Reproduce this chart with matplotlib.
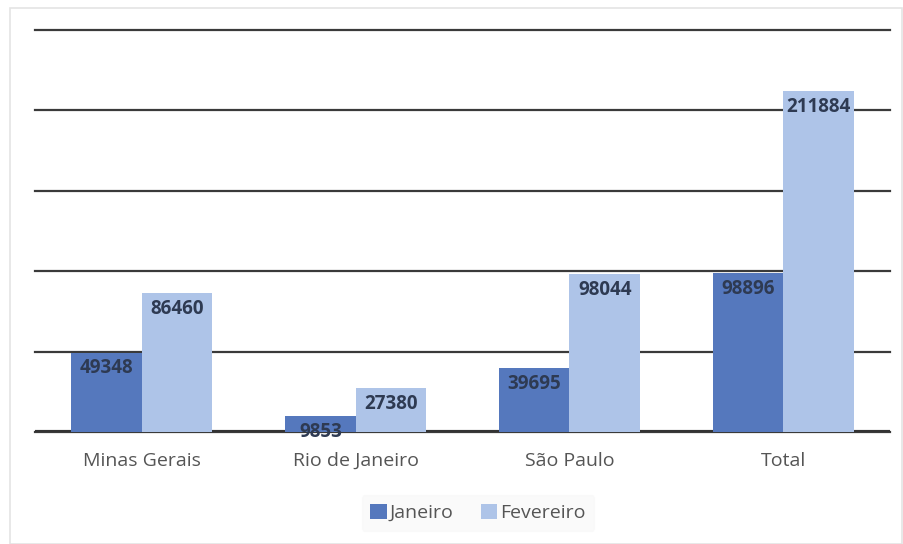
import numpy as np
import matplotlib.pyplot as plt
from matplotlib.patches import Rectangle

# ---------- DATA ----------

categories = ["Minas Gerais", "Rio de Janeiro", "São Paulo", "Total"]
janeiro = [49348, 9853, 39695, 98896]
fevereiro = [86460, 27380, 98044, 211884]
series_names = ["Janeiro", "Fevereiro"]

# ---------- PLOTTING ----------

plt.rcParams["font.family"] = ["Open Sans", "DejaVu Sans"]

col_jan = "#5578bd"
col_fev = "#aec4e8"
label_col = "#2e3a52"

fig = plt.figure(figsize=(9.04, 5.44), dpi=100)
ax = fig.add_axes([35 / 904, 112 / 544, 855 / 904, 402 / 544])

x = np.arange(len(categories))
w = 0.33

bars_j = ax.bar(x - w / 2, janeiro, w, color=col_jan, label=series_names[0], zorder=3)
bars_f = ax.bar(x + w / 2, fevereiro, w, color=col_fev, label=series_names[1], zorder=3)

for bars in (bars_j, bars_f):
    for b in bars:
        h = b.get_height()
        ax.annotate(f"{int(h)}", (b.get_x() + b.get_width() / 2, h),
                    xytext=(0, -4), textcoords="offset points",
                    ha="center", va="top", fontsize=13.5, fontweight="bold",
                    color=label_col, zorder=4)

ax.set_ylim(0, 250000)
ax.set_xlim(-0.5, len(categories) - 0.5)
ax.set_yticks(np.arange(0, 250001, 50000))
ax.yaxis.grid(True, color="#3a3a3a", linewidth=1.6, zorder=1)
for gl in ax.get_ygridlines():
    gl.set_clip_on(False)
ax.axhline(0, color="#333333", linewidth=3, zorder=2)
ax.tick_params(axis="y", left=False, labelleft=False)
ax.tick_params(axis="x", bottom=False, labelsize=14, labelcolor="#555555", pad=11)
ax.set_xticks(x)
ax.set_xticklabels(categories)
for s in ax.spines.values():
    s.set_visible(False)

leg = fig.legend(loc="center", bbox_to_anchor=(478 / 904, 1 - 513 / 544), ncol=2,
                 frameon=True, fontsize=14, handlelength=0.85, handleheight=0.85,
                 handletextpad=0.15, columnspacing=1.4, borderpad=0.45)
leg.get_frame().set_facecolor("#f9f9f9")
leg.get_frame().set_edgecolor("#f9f9f9")
for t in leg.get_texts():
    t.set_color("#555555")

# faint outer frame
fig.patches.append(Rectangle((10 / 904, 0), 1 - 12 / 904, 1 - 8 / 544,
                             transform=fig.transFigure, fill=False,
                             edgecolor="#e4e4e4", linewidth=1.2))

fig.savefig("out.png", dpi=100)
